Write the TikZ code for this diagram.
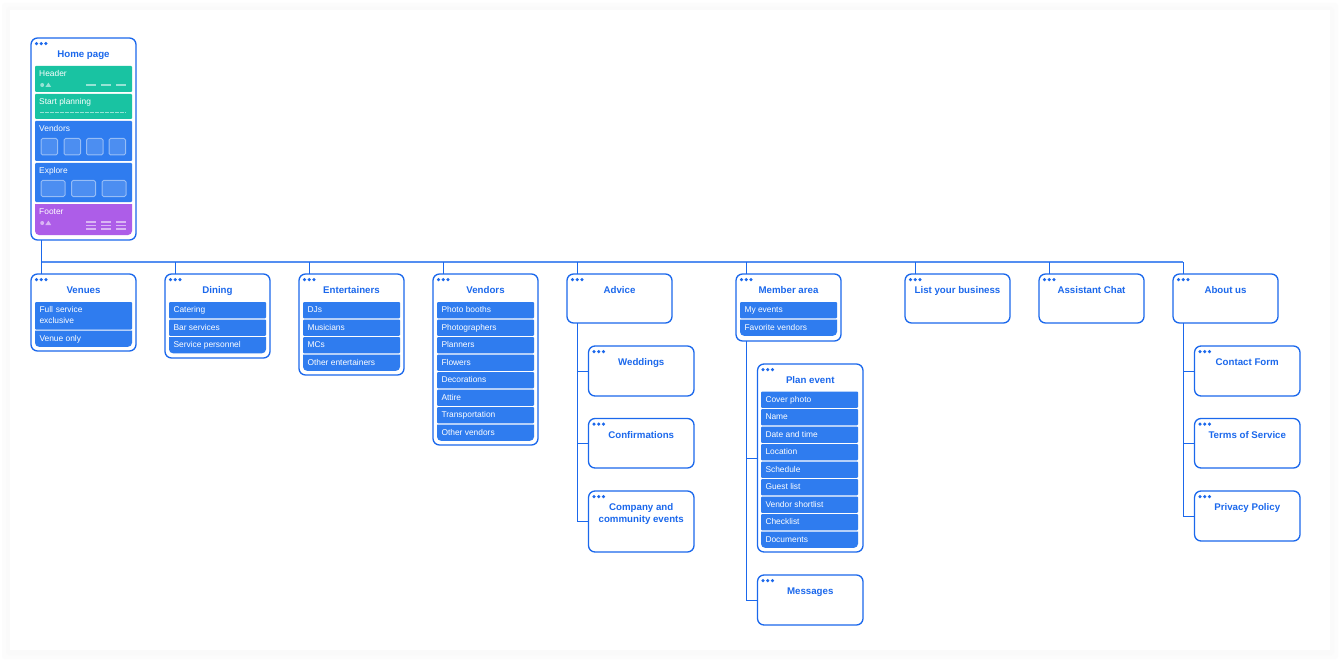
\documentclass[tikz,border=0pt]{standalone}
\usepackage{fontspec}
\setmainfont{Liberation Sans}
\definecolor{edge}{HTML}{1B68EC}
\definecolor{itemblue}{HTML}{2F7CEF}
\definecolor{teal}{HTML}{19C3A2}
\definecolor{violet}{HTML}{AD5DE8}
\tikzset{
  cardbox/.style={draw=edge,line width=1.3pt,rounded corners=6.5pt,fill=white,anchor=north west,inner sep=0pt,outer sep=0pt},
  cardtitle/.style={text=edge,font=\bfseries\fontsize{9.7}{12}\selectfont,anchor=north,align=center,inner sep=0pt},
  itembox/.style={fill=itemblue,anchor=north west,inner sep=0pt,outer sep=0pt,minimum width=97pt,rounded corners=1pt},
  itemtext/.style={text=white,font=\fontsize{8.4}{11}\selectfont,anchor=base west,align=left,inner sep=0pt},
  hometext/.style={itemtext},
  link/.style={draw=edge,line width=1pt},
  bus/.style={draw=edge!75,line width=1.6pt},
  deco/.style={draw=white,opacity=.55,line width=1.1pt},
  tile/.style={draw=white,draw opacity=.45,fill=white,fill opacity=.14,line width=1pt,rounded corners=1.5pt},
}
\newcommand{\cardat}[6]{%
  \node[cardbox,minimum width=#4pt,minimum height=#5pt] (#1) at (#2,#3) {};
  \fill[edge] (#2+5.5,#3+5.6) circle (1.75) (#2+10.2,#3+5.6) circle (1.75) (#2+14.9,#3+5.6) circle (1.75);
  \node[cardtitle] (#1t) at (#2+#4/2,#3+12) {\rule{0pt}{7.5pt}#6};
}
\newcommand{\rowat}[4]{%
  \node[itembox,minimum height=16.3pt] (#1) at (#2-.5,#3) {};
  \node[itemtext] (#1t) at (#2+3.8,#3+10.9) {#4};
}
\newcommand{\lastfill}[5]{%
  \fill[#5] (#2-.5,#3) -- (#2+96.5,#3) [rounded corners=4pt] -- (#2+96.5,#3+#4) -- (#2-.5,#3+#4) [sharp corners] -- cycle;
  \coordinate (#1) at (#2-.5,#3);
}
\newcommand{\lastat}[4]{%
  \lastfill{#1}{#2}{#3}{16.3}{itemblue}
  \node[itemtext] (#1t) at (#2+3.8,#3+10.9) {#4};
}
\begin{document}
\begin{tikzpicture}[x=1pt,y=-1pt]
\useasboundingbox (0,0) rectangle (1340,663);
\fill[white] (0,0) rectangle (1340,663);
\foreach \s/\c in {8/99.3,6/99.0,4/98.6,2/98.0}{
  \definecolor{shd}{gray}{0.\c}
  \fill[shd,rounded corners=3pt] (10-\s,10-\s+1) rectangle (1330+\s,650+\s+1);
}
\fill[white] (10,10) rectangle (1330,650);

\coordinate (busL) at (41,262);
\coordinate (busR) at (1183,262);

% Home page
\cardat{home}{31}{38}{105}{202}{Home page}
\node[itembox,fill=teal,minimum height=26pt] (hHeader) at (35,66) {};
\node[hometext] (hHeadert) at (39,76.7) {Header};
\fill[white,opacity=.55] (42.2,85) circle (2);
\fill[white,opacity=.55] (45.4,87) -- (48.4,82.6) -- (51.2,87) -- cycle;
\draw[deco] (86,85) -- (96,85) (101,85) -- (111,85) (116,85) -- (126,85);
\node[itembox,fill=teal,minimum height=25pt] (hStart) at (35,94) {};
\node[hometext] (hStartt) at (39,104.7) {Start planning};
\draw[deco,dash pattern=on 3.5pt off 1.5pt,line width=.9pt] (40,112.5) -- (126,112.5);
\node[itembox,minimum height=40pt] (hVendors) at (35,121) {};
\node[hometext] (hVendorst) at (39,131.7) {Vendors};
\foreach \x in {41,64,86.5,109}{\draw[tile] (\x,138.5) rectangle (\x+16.5,155);}
\node[itembox,minimum height=39pt] (hExplore) at (35,163) {};
\node[hometext] (hExploret) at (39,173.2) {Explore};
\foreach \x in {41,71.5,102}{\draw[tile] (\x,180.5) rectangle (\x+24,196.5);}
\lastfill{hFooter}{35.5}{204}{31}{violet}
\node[hometext] (hFootert) at (39,214.7) {Footer};
\fill[white,opacity=.55] (42.2,223) circle (2);
\fill[white,opacity=.55] (45.4,225) -- (48.4,220.6) -- (51.2,225) -- cycle;
\foreach \x in {86,101,116}{\draw[deco] (\x,222) -- (\x+10,222) (\x,225.5) -- (\x+10,225.5) (\x,229) -- (\x+10,229);}

% Venues
\cardat{venues}{31}{274}{105}{77}{Venues}
\node[itembox,minimum height=27.5pt] (vFull) at (35,302) {};
\node[itemtext,anchor=north west,text width=80pt] (vFullt) at (39.3,306.4) {Full service\\exclusive};
\lastat{vOnly}{35.5}{330.5}{Venue only}
% Dining
\cardat{dining}{165}{274}{105}{84}{Dining}
\rowat{dCat}{169.5}{302}{Catering}
\rowat{dBar}{169.5}{319.5}{Bar services}
\lastat{dSer}{169.5}{337}{Service personnel}
% Entertainers
\cardat{entertainers}{299}{274}{105}{101}{Entertainers}
\rowat{eDJ}{303.5}{302}{DJs}
\rowat{eMus}{303.5}{319.5}{Musicians}
\rowat{eMC}{303.5}{337}{MCs}
\lastat{eOth}{303.5}{354.5}{Other entertainers}
% Vendors
\cardat{vendors}{433}{274}{105}{171}{Vendors}
\rowat{nPho}{437.5}{302}{Photo booths}
\rowat{nGra}{437.5}{319.5}{Photographers}
\rowat{nPla}{437.5}{337}{Planners}
\rowat{nFlo}{437.5}{354.5}{Flowers}
\rowat{nDec}{437.5}{372}{Decorations}
\rowat{nAtt}{437.5}{389.5}{Attire}
\rowat{nTra}{437.5}{407}{Transportation}
\lastat{nOth}{437.5}{424.5}{Other vendors}
% Advice
\cardat{advice}{567}{274}{105}{49}{Advice}
\cardat{weddings}{588.5}{346}{105.5}{50}{Weddings}
\cardat{confirm}{588.5}{418.5}{105.5}{49.5}{Confirmations}
\cardat{company}{588.5}{491}{105.5}{61}{Company and\\community events}
% Member area
\cardat{member}{736}{274}{105}{67}{Member area}
\rowat{mEv}{740.5}{302}{My events}
\lastat{mFav}{740.5}{319.5}{Favorite vendors}
\cardat{plan}{757.5}{364}{105.5}{188}{Plan event}
\rowat{pCov}{761.5}{391.5}{Cover photo}
\rowat{pNam}{761.5}{409}{Name}
\rowat{pDat}{761.5}{426.5}{Date and time}
\rowat{pLoc}{761.5}{444}{Location}
\rowat{pSch}{761.5}{461.5}{Schedule}
\rowat{pGue}{761.5}{479}{Guest list}
\rowat{pVen}{761.5}{496.5}{Vendor shortlist}
\rowat{pChe}{761.5}{514}{Checklist}
\lastat{pDoc}{761.5}{531.5}{Documents}
\cardat{messages}{757.5}{575}{105.5}{50}{Messages}
% Top level without sub-items
\cardat{list}{905}{274}{105}{49}{List your business}
\cardat{chat}{1039}{274}{105}{49}{Assistant Chat}
\cardat{about}{1173}{274}{105}{49}{About us}
\cardat{contact}{1194.5}{346}{105.5}{50}{Contact Form}
\cardat{terms}{1194.5}{418.5}{105.5}{49.5}{Terms of Service}
\cardat{privacy}{1194.5}{491}{105.5}{50}{Privacy Policy}

% links
\draw[bus] (busL) -- (busR);
\draw[link] ([xshift=10pt]home.south west) -- ([xshift=10pt]venues.north west);
\foreach \c in {dining,entertainers,vendors,advice,member,list,chat,about}{
  \draw[link] ([xshift=10pt]\c.north west) -- ([xshift=10pt]\c.north west |- busL);
}
\foreach \c in {weddings,confirm,company}{
  \draw[link] ([xshift=10pt]advice.south west) |- (\c.west);
}
\foreach \c in {plan,messages}{
  \draw[link] ([xshift=10pt]member.south west) |- (\c.west);
}
\foreach \c in {contact,terms,privacy}{
  \draw[link] ([xshift=10pt]about.south west) |- (\c.west);
}
\end{tikzpicture}
\end{document}
